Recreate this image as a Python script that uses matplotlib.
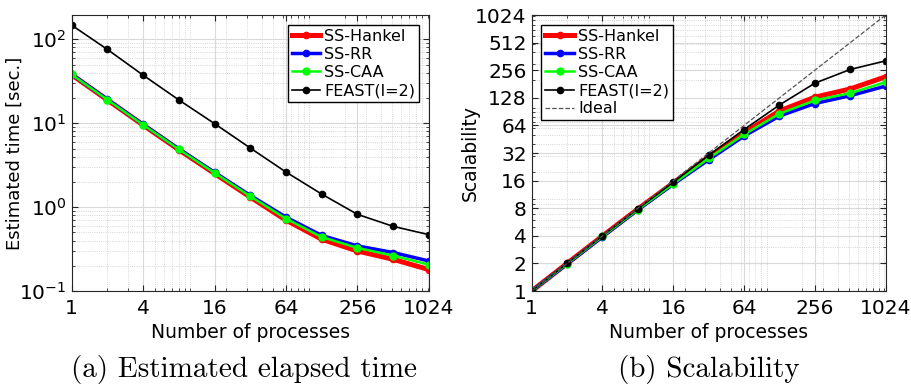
import matplotlib
matplotlib.use('Agg')
import matplotlib.pyplot as plt
import numpy as np
from matplotlib.ticker import FixedLocator, LogLocator, NullFormatter

# data
procs = [1, 2, 4, 8, 16, 32, 64, 128, 256, 512, 1024]

time_hankel = [38.0, 19.0, 9.55, 4.84, 2.52, 1.32, 0.70, 0.415, 0.30, 0.239, 0.180]
time_rr     = [38.5, 19.3, 9.7, 4.95, 2.6, 1.38, 0.76, 0.46, 0.345, 0.288, 0.228]
time_caa    = [38.2, 19.1, 9.6, 4.9, 2.56, 1.35, 0.73, 0.44, 0.327, 0.264, 0.206]
time_feast  = [148, 76, 37.5, 19.0, 9.9, 5.07, 2.62, 1.43, 0.82, 0.59, 0.47]

scal_hankel = [1, 2.0, 3.98, 7.85, 15.1, 29.0, 53, 92, 130, 160, 217]
scal_rr     = [1, 1.97, 3.92, 7.7, 14.6, 27.0, 49, 81, 111, 135, 172]
scal_caa    = [1, 1.98, 3.95, 7.75, 14.8, 28.0, 51, 86, 120, 144, 190]
scal_feast  = [1, 2.0, 4.0, 7.9, 15.4, 30.3, 57.7, 107, 185, 261, 324]
ideal = [1, 1024]

xticks = [1, 4, 16, 64, 256, 1024]
yticks_scal = [1, 2, 4, 8, 16, 32, 64, 128, 256, 512, 1024]

plt.rcParams['font.family'] = ['DejaVu Sans']
plt.rcParams['mathtext.fontset'] = 'dejavusans'

fig = plt.figure(figsize=(9.11, 3.85), dpi=100)
ax1 = fig.add_axes([0.0785, 0.244, 0.3924, 0.717])
ax2 = fig.add_axes([0.5836, 0.244, 0.3886, 0.717])

styles = [
    ('SS-Hankel', '#ff0000', 3.6, 4.5),
    ('SS-RR', '#0000ff', 2.5, 4.5),
    ('SS-CAA', '#00ff00', 1.8, 5.0),
    ('FEAST(l=2)', 'black', 1.2, 4.5),
]

times = [time_hankel, time_rr, time_caa, time_feast]
scals = [scal_hankel, scal_rr, scal_caa, scal_feast]

for (lab, col, lw, ms), t in zip(styles, times):
    ax1.plot(procs, t, '-o', color=col, lw=lw, ms=ms, label=lab)
for (lab, col, lw, ms), s in zip(styles, scals):
    ax2.plot(procs, s, '-o', color=col, lw=lw, ms=ms, label=lab)
ax2.plot(ideal, ideal, '--', color='#555555', lw=0.9, label='Ideal')

for ax in (ax1, ax2):
    ax.set_xscale('log')
    ax.set_yscale('log')
    ax.set_xlim(1, 1024)
    ax.xaxis.set_major_locator(FixedLocator(xticks))
    ax.set_xticklabels([str(v) for v in xticks])
    ax.xaxis.set_minor_locator(LogLocator(base=10, subs=np.arange(1, 10)))
    ax.xaxis.set_minor_formatter(NullFormatter())
    ax.yaxis.set_minor_locator(LogLocator(base=10, subs=np.arange(1, 10)))
    ax.yaxis.set_minor_formatter(NullFormatter())
    ax.grid(which='major', color='#d9d9d9', lw=0.8, ls='-')
    ax.grid(which='minor', color='#c8c8c8', lw=0.6, ls=':')
    ax.set_axisbelow(True)
    ax.tick_params(which='both', direction='in', top=True, right=True, labelsize=14.5, colors='#262626')
    ax.tick_params(which='major', length=4)
    ax.tick_params(which='minor', length=2)
    ax.tick_params(axis='x', pad=6)
    ax.tick_params(axis='both', labelcolor='black')
    for sp in ax.spines.values():
        sp.set_color('#262626')
        sp.set_linewidth(0.8)
    ax.set_xlabel('Number of processes', fontsize=13.5, va='center')
    ax.xaxis.set_label_coords(0.5, -0.149)
    ax.legend(loc='upper right' if ax is ax1 else 'upper left', fontsize=11.5,
              fancybox=False, edgecolor='black', framealpha=1, numpoints=1,
              handlelength=1.8, handletextpad=0.25, borderpad=0.25, labelspacing=0.2,
              borderaxespad=0.6)

ax1.set_ylim(0.1, 195)
ax1.yaxis.set_major_locator(FixedLocator([0.1, 1, 10, 100]))
ax1.set_yticklabels(['$10^{-1}$', '$10^{0}$', '$10^{1}$', '$10^{2}$'])
ax1.set_ylabel('Estimated time [sec.]', fontsize=13, va='center')
ax1.yaxis.set_label_coords(-0.158, 0.5)

ax2.set_ylim(1, 1024)
ax2.yaxis.set_major_locator(FixedLocator(yticks_scal))
ax2.set_yticklabels([str(v) for v in yticks_scal])
ax2.set_ylabel('Scalability', fontsize=13.5, va='center')
ax2.yaxis.set_label_coords(-0.174, 0.5)

fig.text(0.268, 0.039, '(a) Estimated elapsed time', family='cmr10', fontsize=21, ha='center', va='center')
fig.text(0.778, 0.039, '(b) Scalability', family='cmr10', fontsize=21, ha='center', va='center')

fig.savefig('out.png', dpi=100)
